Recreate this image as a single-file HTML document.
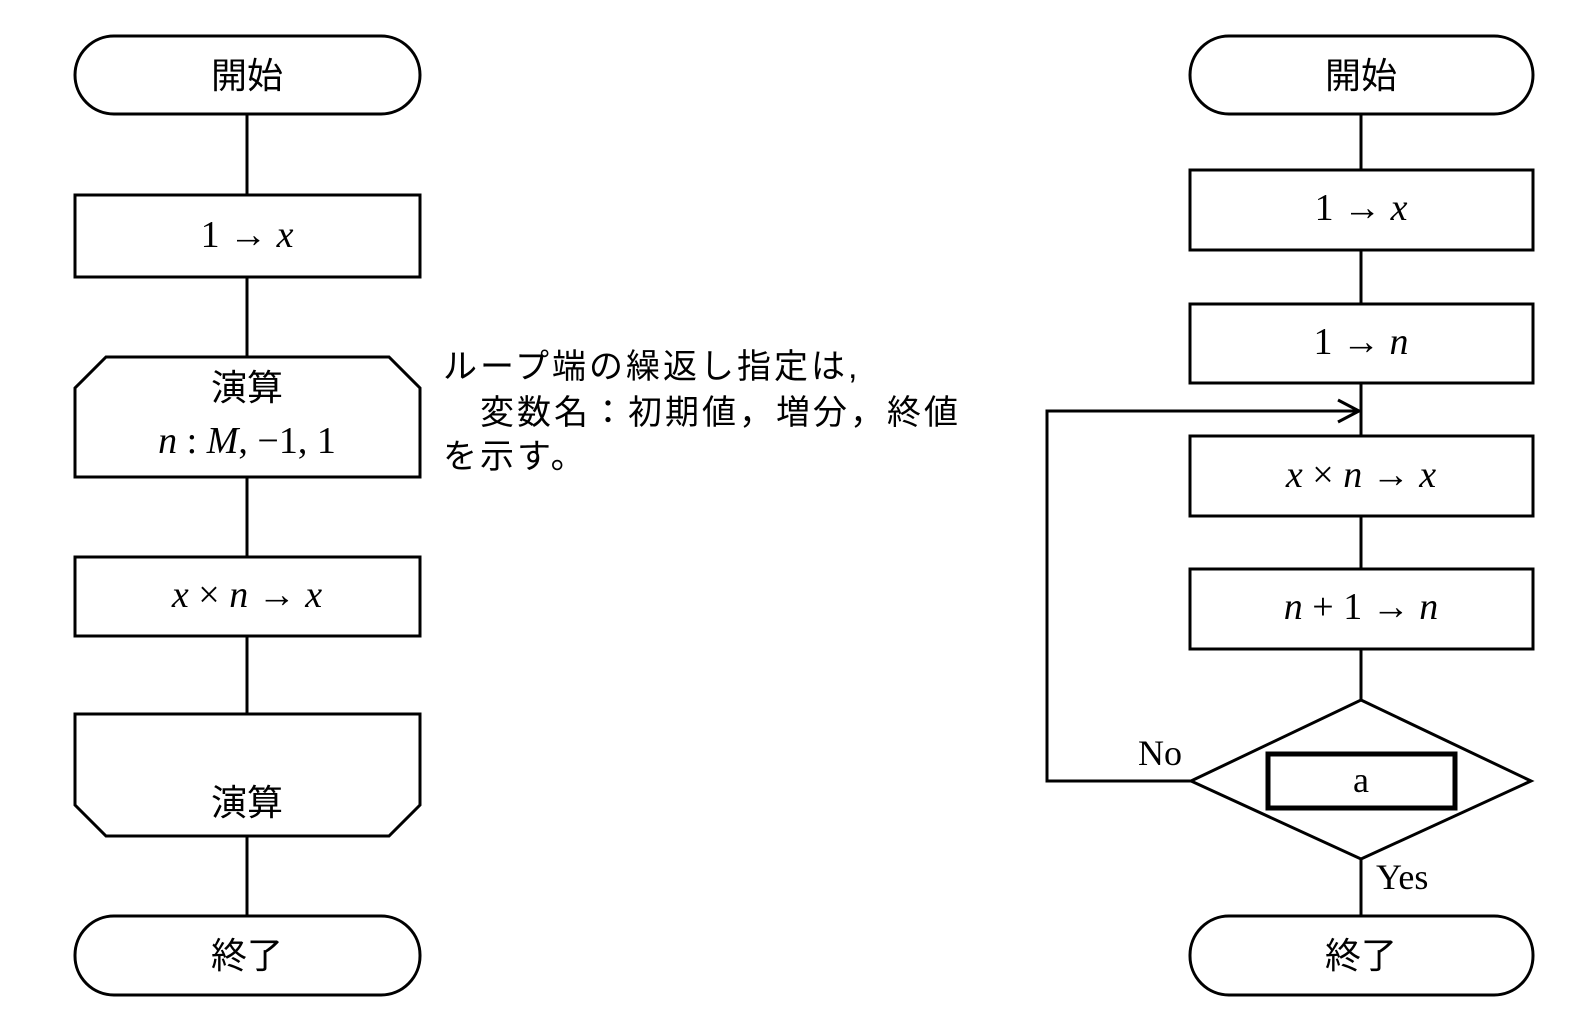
<!DOCTYPE html>
<html><head><meta charset="utf-8"><style>
html,body{margin:0;padding:0;background:#fff;}
svg{display:block;}
.j{font-family:"Liberation Sans","Noto Sans CJK JP",sans-serif;font-size:36px;fill:#000;}
.m{font-family:"Liberation Serif","Noto Serif CJK SC",serif;font-size:38px;fill:#000;}
.t{font-family:"Liberation Sans","Noto Sans CJK JP",sans-serif;font-size:34px;letter-spacing:3px;fill:#000;}
.e{font-family:"Liberation Serif",serif;font-size:36px;fill:#000;}
</style></head><body>
<svg width="1594" height="1030" viewBox="0 0 1594 1030" xmlns="http://www.w3.org/2000/svg">
<g fill="none" stroke="#000" stroke-width="3">
<line x1="247" y1="114" x2="247" y2="916"/>
<rect x="75" y="36" width="345" height="78" rx="39" fill="#fff"/>
<rect x="75" y="195" width="345" height="82" fill="#fff"/>
<path d="M106 357 H389 L420 388 V477 H75 V388 Z" fill="#fff"/>
<rect x="75" y="557" width="345" height="79" fill="#fff"/>
<path d="M75 714 H420 V805 L389 836 H106 L75 805 Z" fill="#fff"/>
<rect x="75" y="916" width="345" height="79" rx="39" fill="#fff"/>
<line x1="1361" y1="114" x2="1361" y2="916"/>
<rect x="1190" y="36" width="343" height="78" rx="39" fill="#fff"/>
<rect x="1190" y="170" width="343" height="80" fill="#fff"/>
<rect x="1190" y="304" width="343" height="79" fill="#fff"/>
<rect x="1190" y="436" width="343" height="80" fill="#fff"/>
<rect x="1190" y="569" width="343" height="80" fill="#fff"/>
<polygon points="1361,700 1531,781 1361,859 1191,781" fill="#fff"/>
<rect x="1268" y="754" width="187" height="54" stroke-width="5"/>
<rect x="1190" y="916" width="343" height="79" rx="39" fill="#fff"/>
<polyline points="1191,781 1047,781 1047,411 1359,411"/>
<polyline points="1338,400 1359,411 1338,422"/>
</g>
<text class="j" x="247" y="88" text-anchor="middle">開始</text>
<text class="m" x="247" y="247" text-anchor="middle">1 → <tspan font-style="italic">x</tspan></text>
<text class="j" x="247" y="400" text-anchor="middle">演算</text>
<text class="m" x="247" y="453" text-anchor="middle"><tspan font-style="italic">n</tspan> : <tspan font-style="italic">M</tspan>, −1, 1</text>
<text class="m" x="247" y="607" text-anchor="middle"><tspan font-style="italic">x</tspan> × <tspan font-style="italic">n</tspan> → <tspan font-style="italic">x</tspan></text>
<text class="j" x="247" y="815" text-anchor="middle">演算</text>
<text class="j" x="247" y="968" text-anchor="middle">終了</text>
<text class="t" x="443" y="378">ループ端の繰返し指定は,</text>
<text class="t" x="480" y="424">変数名：初期値，増分，終値</text>
<text class="t" x="443" y="468">を示す。</text>
<text class="j" x="1361" y="88" text-anchor="middle">開始</text>
<text class="m" x="1361" y="220" text-anchor="middle">1 → <tspan font-style="italic">x</tspan></text>
<text class="m" x="1361" y="354" text-anchor="middle">1 → <tspan font-style="italic">n</tspan></text>
<text class="m" x="1361" y="487" text-anchor="middle"><tspan font-style="italic">x</tspan> × <tspan font-style="italic">n</tspan> → <tspan font-style="italic">x</tspan></text>
<text class="m" x="1361" y="619" text-anchor="middle"><tspan font-style="italic">n</tspan> + 1 → <tspan font-style="italic">n</tspan></text>
<text class="e" x="1361" y="792" text-anchor="middle">a</text>
<text class="e" x="1138" y="765">No</text>
<text class="e" x="1376" y="889">Yes</text>
<text class="j" x="1361" y="968" text-anchor="middle">終了</text>
</svg>
</body></html>
